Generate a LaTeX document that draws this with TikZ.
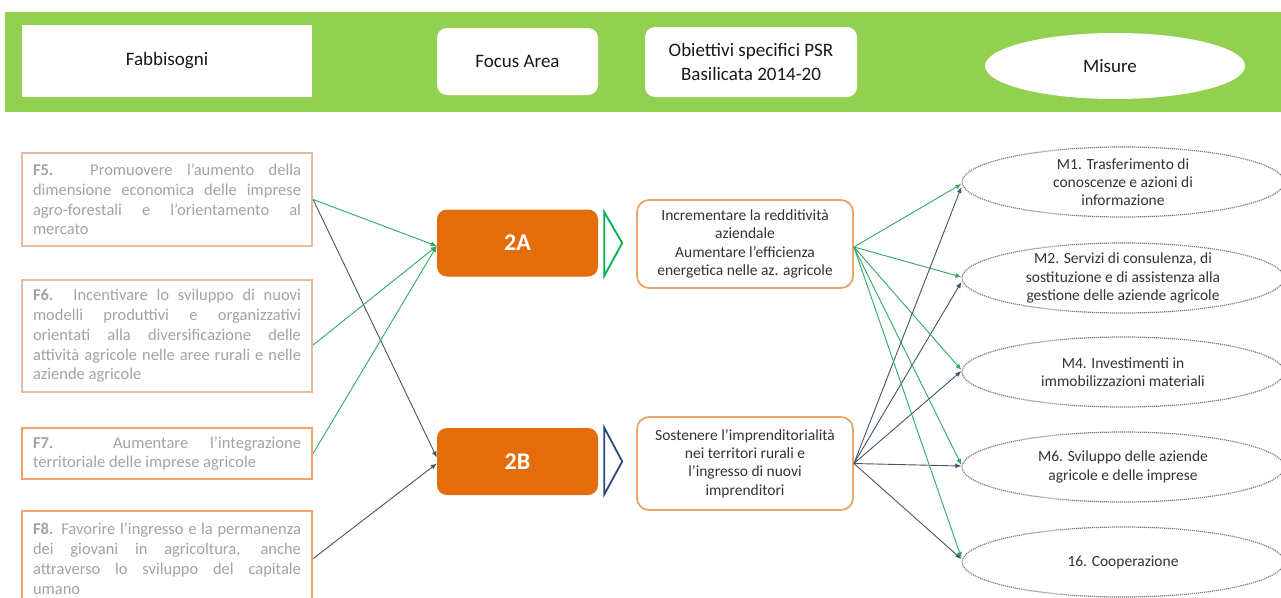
\documentclass[tikz,border=0pt]{standalone}
\usepackage{fontspec}
\setmainfont{Carlito}
\usetikzlibrary{shapes.geometric,arrows.meta,calc}
\definecolor{hdrgreen}{HTML}{92D050}
\definecolor{faorange}{HTML}{E46C0A}
\definecolor{ftext}{HTML}{A3A3A3}
\definecolor{ftan}{HTML}{E6BC9C}
\definecolor{forange}{HTML}{F2A468}
\definecolor{objborder}{HTML}{EDA46A}
\definecolor{lgreen}{HTML}{2FAA62}
\definecolor{lblue}{HTML}{44546A}
\definecolor{tgreen}{HTML}{00B050}
\definecolor{tblue}{HTML}{2E4A7D}
\definecolor{dotline}{HTML}{7A7A7A}
\definecolor{objtxt}{HTML}{333333}
\begin{document}
\begin{tikzpicture}[x=1pt,y=-1pt,
  hdrbox/.style={fill=white,draw=none,inner sep=0,align=center,font=\fontsize{19}{24.5}\selectfont,text=black!90},
  fbox/.style={draw=ftan,line width=2.2pt,fill=white,minimum width=290,inner xsep=11,inner ysep=0,
    text width=268,align=justify,text=ftext,font=\fontsize{16.5}{19.8}\selectfont},
  fabox/.style={fill=faorange,draw=none,rounded corners=10pt,minimum width=161,minimum height=67,
    text=white,font=\fontsize{24}{28}\selectfont\bfseries},
  objbox/.style={draw=objborder,line width=1.8pt,rounded corners=12pt,fill=white,minimum width=216,
    align=center,text=objtxt,font=\fontsize{15.5}{18.3}\selectfont},
  misbox/.style={ellipse,draw=dotline,dash pattern=on 1.1pt off 0.9pt,line width=1.2pt,minimum width=322,minimum height=70,inner sep=0},
  mistext/.style={align=center,text=objtxt,font=\fontsize{15.5}{18.3}\selectfont,inner sep=0},
  gline/.style={draw=lgreen,line width=0.9pt,-{Latex[length=6pt,width=5pt]}},
  bline/.style={draw=lblue,line width=0.9pt,-{Latex[length=6pt,width=5pt]}}
]
\useasboundingbox (0,0) rectangle (1281,597);
\clip (0,0) rectangle (1281,597);
\fill[white] (0,0) rectangle (1281,597);

% header band
\node[fill=hdrgreen,draw=none,inner sep=0,minimum width=1276,minimum height=100,anchor=north west] (band) at (5,12) {};
\node[hdrbox,minimum width=290,minimum height=72] (hfab) at (167,61) {Fabbisogni};
\node[hdrbox,rounded corners=10pt,minimum width=161,minimum height=67] (hfa) at (517.5,61.5) {Focus Area};
\node[hdrbox,rounded corners=10pt,minimum width=212,minimum height=70] (hobj) at (751,62) {Obiettivi specifici PSR\\Basilicata 2014-20};
\node[hdrbox,ellipse,minimum width=260,minimum height=66] (hmis) at (1115,66) {};
\node[hdrbox] (hmist) at (1110,66) {Misure};

% fabbisogni
\node[fbox,minimum height=93] (f5) at (167,199.5) {\textbf{F5.} Promuovere l’aumento della\linebreak dimensione economica delle imprese\linebreak agro-forestali e l’orientamento al\linebreak mercato};
\node[fbox,minimum height=112] (f6) at (167,336) {\textbf{F6.} Incentivare lo sviluppo di nuovi\linebreak modelli produttivi e organizzativi\linebreak orientati alla diversificazione delle\linebreak attività agricole nelle aree rurali e nelle\linebreak aziende agricole};
\node[fbox,draw=forange,minimum height=51] (f7) at (167,453.5) {\textbf{F7.} Aumentare l’integrazione\linebreak territoriale delle imprese agricole};
\node[fbox,draw=forange,minimum height=95,anchor=north] (f8) at (167,510) {\textbf{F8.} Favorire l’ingresso e la permanenza\linebreak dei giovani in agricoltura, anche\linebreak attraverso lo sviluppo del capitale\linebreak umano};

% focus areas
\node[fabox] (a2) at (517.5,243) {2A};
\node[fabox] (b2) at (517.5,461.5) {2B};

% chevrons
\draw[tgreen,line width=1.8pt,line join=miter] ($(a2.east)+(6,-31)$) -- ($(a2.east)+(24,0)$) -- ($(a2.east)+(6,33)$) -- cycle;
\draw[tblue,line width=1.8pt,line join=miter] ($(b2.east)+(6,-34)$) -- ($(b2.east)+(24,0)$) -- ($(b2.east)+(6,33)$) -- cycle;

% objectives
\node[objbox,minimum height=88] (oa) at (745,244) {Incrementare la redditività\\aziendale\\Aumentare l’efficienza\\energetica nelle az. agricole};
\node[objbox,minimum height=93] (ob) at (745,463.5) {Sostenere l’imprenditorialità\\nei territori rurali e\\l’ingresso di nuovi\\imprenditori};

% misure
\node[misbox,label={[mistext]center:{M1. Trasferimento di\\conoscenze e azioni di\\informazione}}] (m1) at (1123,182) {};
\node[misbox,label={[mistext]center:{M2. Servizi di consulenza, di\\sostituzione e di assistenza alla\\gestione delle aziende agricole}}] (m2) at (1123,278) {};
\node[misbox,label={[mistext]center:{M4. Investimenti in\\immobilizzazioni materiali}}] (m4) at (1123,372) {};
\node[misbox,label={[mistext]center:{M6. Sviluppo delle aziende\\agricole e delle imprese}}] (m6) at (1123,467) {};
\node[misbox,label={[mistext]center:{16. Cooperazione}}] (m16) at (1123,562) {};

% connectors fabbisogni -> focus areas
\draw[gline] (f5.east) -- ($(a2.west)+(0,3)$);
\draw[bline] (f5.east) -- ($(b2.west)+(0,-4)$);
\draw[gline] ($(f6.east)+(0,9)$) -- ($(a2.west)+(0,3)$);
\draw[gline] (f7.east) -- ($(a2.west)+(0,3)$);
\draw[bline] (f8.east) -- ($(b2.west)+(0,2)$);

% connectors objectives -> misure (blue first, green on top)
\draw[bline] (ob.east) -- ($(m1.west)+(0,5)$);
\draw[bline] (ob.east) -- ($(m2.west)+(0,4)$);
\draw[bline] (ob.east) -- ($(m4.west)+(0,-1)$);
\draw[bline] (ob.east) -- ($(m6.west)+(0,-1)$);
\draw[bline] (ob.east) -- ($(m16.west)+(0,-3)$);
\draw[gline] ($(oa.east)+(0,3)$) -- ($(m1.west)+(0,2)$);
\draw[gline] ($(oa.east)+(0,3)$) -- ($(m2.west)+(0,-1)$);
\draw[gline] ($(oa.east)+(0,3)$) -- ($(m4.west)+(0,-2)$);
\draw[gline] ($(oa.east)+(0,3)$) -- ($(m6.west)+(0,-2)$);
\draw[gline] ($(oa.east)+(0,3)$) -- ($(m16.west)+(0,-4)$);
\end{tikzpicture}
\end{document}
